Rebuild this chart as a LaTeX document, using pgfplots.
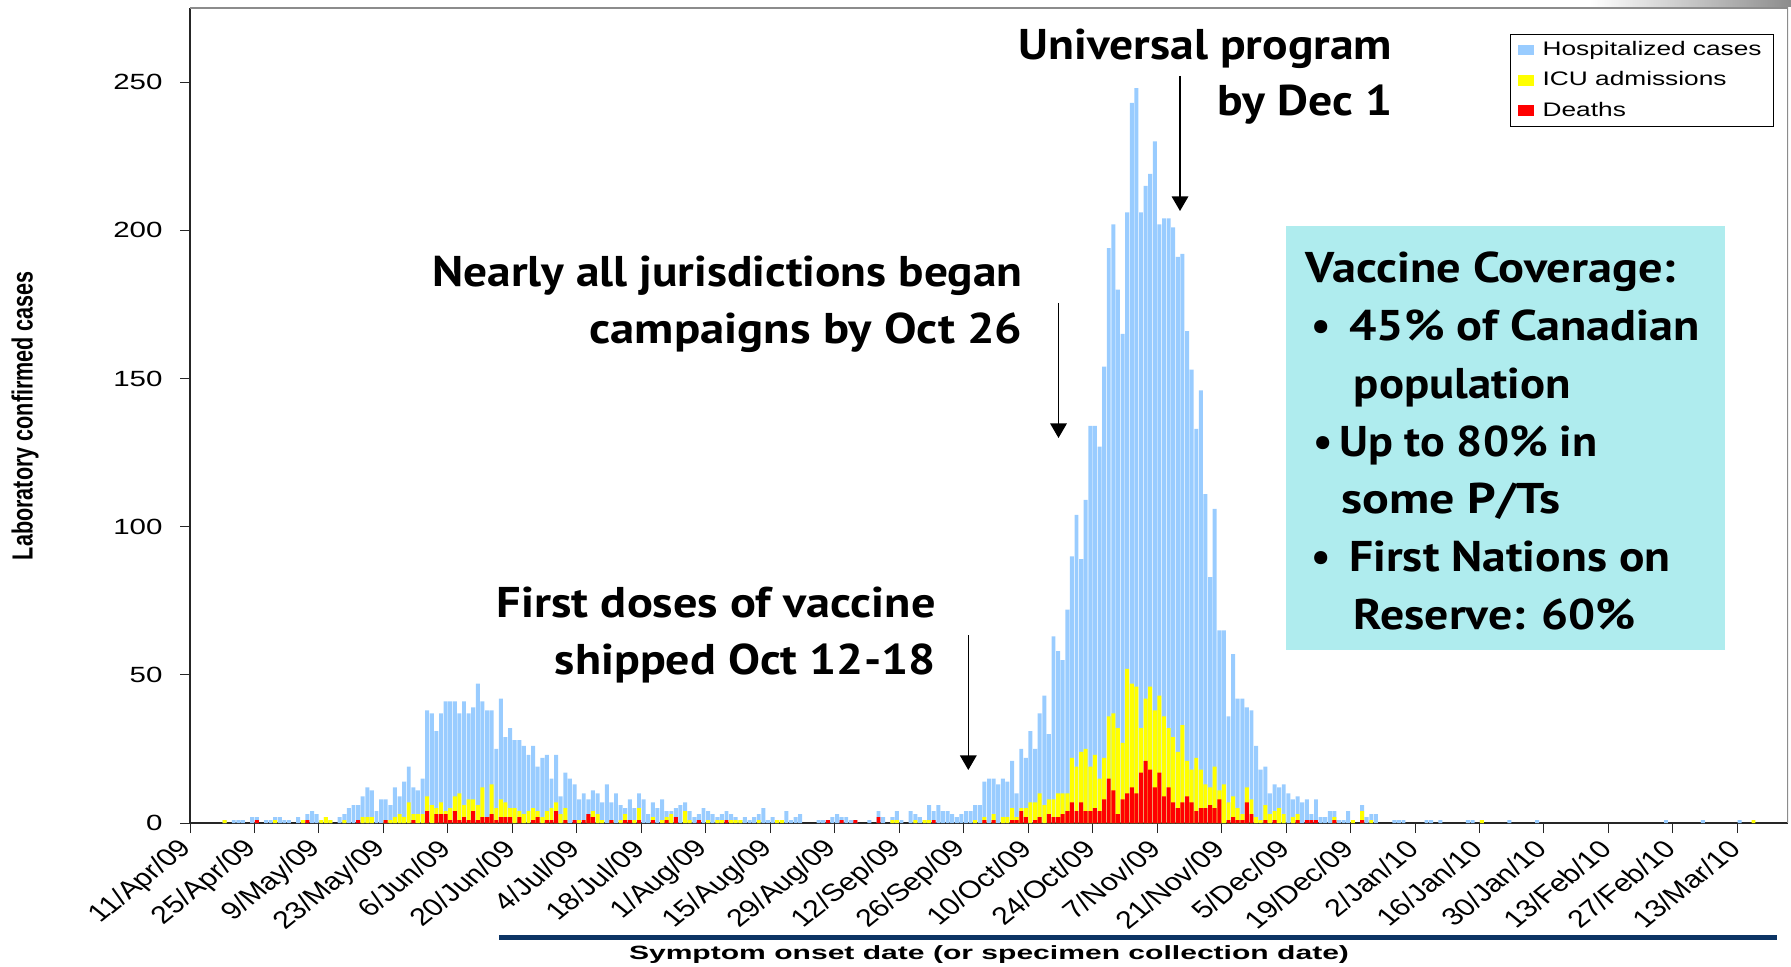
\documentclass[border=0pt]{standalone}
\usepackage{pgfplots}
\pgfplotsset{compat=1.18}
\usepackage{graphicx}
\usepackage{fontspec}
\setmainfont{Liberation Sans}
\newfontfamily\annfont{PT Sans}
\usetikzlibrary{arrows.meta}
\definecolor{hosp}{RGB}{153,204,255}
\definecolor{icu}{RGB}{255,255,0}
\definecolor{death}{RGB}{255,0,0}
\definecolor{boxc}{RGB}{175,236,238}
\definecolor{navy}{RGB}{12,52,100}
\newcommand{\fitw}[2]{\resizebox{#1}{\height}{#2}}
\newcommand{\ann}{\annfont\bfseries\fontsize{21.5}{25}\selectfont}
\newcommand{\leg}[1]{\hspace{2.5pt}\scalebox{1.34}[1]{#1}}
\begin{document}
\begin{tikzpicture}
\useasboundingbox (0,0) rectangle (895.5pt,-483.5pt);
\begin{axis}[
  at={(95pt,-411.5pt)}, anchor=south west,
  scale only axis, width=799pt, height=407.5pt,
  xmin=0, xmax=347, ymin=0, ymax=275,
  axis x line*=bottom, axis y line*=left,
  axis line style={black!85, line width=0.6pt},
  tick align=outside, major tick length=5pt,
  tick style={black!85, line width=0.5pt},
  ytick={0,50,100,150,200,250},
  /pgf/number format/assume math mode=true,
  yticklabel style={font=\fontsize{11}{13}\selectfont, xscale=1.34, anchor=east, xshift=-3pt},
  xtick={0,14,...,336},
  xticklabels={11/Apr/09,25/Apr/09,9/May/09,23/May/09,6/Jun/09,20/Jun/09,4/Jul/09,18/Jul/09,1/Aug/09,15/Aug/09,29/Aug/09,12/Sep/09,26/Sep/09,10/Oct/09,24/Oct/09,7/Nov/09,21/Nov/09,5/Dec/09,19/Dec/09,2/Jan/10,16/Jan/10,30/Jan/10,13/Feb/10,27/Feb/10,13/Mar/10},
  xticklabel style={font=\fontsize{12.3}{14}\selectfont, cm={0.8768,0.7071,-0.8768,0.7071,(0,0)}, anchor=east, xshift=-1.5pt, yshift=-3.5pt},
  legend image code/.code={\fill[#1] (0pt,-2.6pt) rectangle (7.6pt,2.6pt);},
  legend style={at={(0.826,0.968)}, anchor=north west, draw=black, line width=0.5pt,
    font=\fontsize{9.8}{11.5}\selectfont, inner xsep=4pt, inner ysep=1.5pt, row sep=2.5pt},
  legend cell align=left,
]
\addplot[ybar, bar width=0.86, bar shift=0pt, fill=hosp, draw=none] coordinates {
(7.5,1) (9.5,1) (10.5,1) (11.5,1) (13.5,2) (14.5,2) (16.5,1) (17.5,1) (18.5,2) (19.5,2) (20.5,1) (21.5,1) (23.5,2) (24.5,1) (25.5,3) (26.5,4) (27.5,3) (28.5,1) (29.5,2) (30.5,1) (32.5,2) (33.5,3) (34.5,5) (35.5,6) (36.5,6) (37.5,9) (38.5,12) (39.5,11) (40.5,4) (41.5,8) (42.5,8) (43.5,6) (44.5,12) (45.5,9) (46.5,14) (47.5,19) (48.5,12) (49.5,11) (50.5,15) (51.5,38) (52.5,37) (53.5,31) (54.5,37) (55.5,41) (56.5,41) (57.5,41) (58.5,37) (59.5,41) (60.5,37) (61.5,39) (62.5,47) (63.5,41) (64.5,38) (65.5,38) (66.5,25) (67.5,42) (68.5,29) (69.5,32) (70.5,28) (71.5,28) (72.5,26) (73.5,23) (74.5,26) (75.5,19) (76.5,22) (77.5,23) (78.5,15) (79.5,23) (80.5,9) (81.5,17) (82.5,15) (83.5,13) (84.5,8) (85.5,10) (86.5,8) (87.5,11) (88.5,10) (89.5,7) (90.5,13) (91.5,7) (92.5,10) (93.5,6) (94.5,5) (95.5,8) (96.5,5) (97.5,10) (98.5,8) (99.5,3) (100.5,7) (101.5,5) (102.5,8) (103.5,4) (104.5,4) (105.5,5) (106.5,6) (107.5,7) (108.5,4) (109.5,2) (110.5,3) (111.5,5) (112.5,4) (113.5,3) (114.5,2) (115.5,3) (116.5,4) (117.5,3) (118.5,2) (119.5,1) (120.5,2) (121.5,1) (122.5,2) (123.5,3) (124.5,5) (125.5,1) (126.5,2) (127.5,1) (129.5,4) (130.5,1) (131.5,2) (132.5,3) (136.5,1) (137.5,1) (138.5,1) (139.5,2) (140.5,3) (141.5,2) (142.5,2) (143.5,1) (144.5,1) (147.5,1) (149.5,4) (150.5,2) (152.5,2) (153.5,4) (154.5,1) (156.5,4) (157.5,3) (158.5,2) (159.5,1) (160.5,6) (161.5,4) (162.5,6) (163.5,4) (164.5,4) (165.5,3) (166.5,2) (167.5,3) (168.5,4) (169.5,4) (170.5,6) (171.5,6) (172.5,14) (173.5,15) (174.5,15) (175.5,13) (176.5,15) (177.5,14) (178.5,21) (179.5,10) (180.5,25) (181.5,22) (182.5,31) (183.5,25) (184.5,37) (185.5,43) (186.5,30) (187.5,63) (188.5,58) (189.5,55) (190.5,72) (191.5,90) (192.5,104) (193.5,89) (194.5,109) (195.5,134) (196.5,134) (197.5,127) (198.5,154) (199.5,194) (200.5,202) (201.5,180) (202.5,165) (203.5,206) (204.5,243) (205.5,248) (206.5,206) (207.5,215) (208.5,219) (209.5,230) (210.5,202) (211.5,204) (212.5,204) (213.5,201) (214.5,191) (215.5,192) (216.5,166) (217.5,153) (218.5,133) (219.5,146) (220.5,111) (221.5,83) (222.5,106) (223.5,65) (224.5,65) (225.5,36) (226.5,57) (227.5,42) (228.5,42) (229.5,39) (230.5,38) (231.5,26) (232.5,18) (233.5,19) (234.5,10) (235.5,13) (236.5,12) (237.5,13) (238.5,10) (239.5,8) (240.5,9) (241.5,7) (242.5,8) (243.5,3) (244.5,8) (245.5,2) (246.5,2) (247.5,4) (248.5,4) (249.5,1) (250.5,1) (251.5,4) (254.5,6) (255.5,2) (256.5,3) (257.5,3) (261.5,1) (262.5,1) (263.5,1) (268.5,1) (269.5,1) (271.5,1) (277.5,1) (278.5,1) (280.5,1) (286.5,1) (292.5,1) (320.5,1) (328.5,1) (336.5,1)
};
\addlegendentry{\leg{Hospitalized cases}}
\addplot[ybar, bar width=0.86, bar shift=0pt, fill=icu, draw=none] coordinates {
(7.5,1) (18.5,1) (24.5,1) (28.5,1) (29.5,2) (30.5,1) (33.5,1) (37.5,2) (38.5,2) (39.5,2) (42.5,1) (43.5,1) (44.5,2) (45.5,3) (46.5,2) (47.5,7) (48.5,3) (49.5,3) (50.5,3) (51.5,9) (52.5,6) (53.5,5) (54.5,7) (55.5,4) (56.5,5) (57.5,9) (58.5,10) (59.5,6) (60.5,8) (61.5,8) (62.5,6) (63.5,12) (64.5,2) (65.5,13) (66.5,5) (67.5,8) (68.5,7) (69.5,5) (70.5,5) (71.5,4) (72.5,3) (73.5,4) (74.5,5) (75.5,4) (76.5,2) (77.5,4) (78.5,5) (79.5,7) (80.5,3) (81.5,5) (84.5,1) (86.5,2) (87.5,4) (88.5,3) (89.5,1) (91.5,1) (93.5,1) (94.5,3) (96.5,1) (97.5,5) (100.5,2) (102.5,1) (103.5,2) (104.5,3) (105.5,1) (107.5,4) (108.5,1) (112.5,1) (114.5,1) (115.5,1) (117.5,1) (118.5,1) (119.5,1) (123.5,1) (127.5,1) (128.5,1) (152.5,1) (153.5,1) (157.5,1) (159.5,1) (160.5,1) (170.5,1) (172.5,2) (174.5,3) (176.5,2) (177.5,2) (178.5,5) (179.5,2) (180.5,5) (181.5,5) (182.5,7) (183.5,7) (184.5,10) (185.5,6) (186.5,8) (187.5,8) (188.5,10) (189.5,10) (190.5,10) (191.5,22) (192.5,19) (193.5,24) (194.5,25) (195.5,19) (196.5,23) (197.5,15) (198.5,22) (199.5,36) (200.5,37) (201.5,32) (202.5,27) (203.5,52) (204.5,47) (205.5,46) (206.5,32) (207.5,42) (208.5,46) (209.5,38) (210.5,43) (211.5,36) (212.5,32) (213.5,29) (214.5,24) (215.5,33) (216.5,21) (217.5,18) (218.5,22) (219.5,18) (220.5,13) (221.5,12) (222.5,19) (223.5,11) (224.5,13) (225.5,7) (226.5,9) (227.5,5) (228.5,3) (229.5,12) (230.5,8) (231.5,2) (232.5,1) (233.5,6) (234.5,3) (235.5,4) (236.5,5) (237.5,3) (239.5,2) (240.5,3) (248.5,2) (252.5,1) (254.5,4) (256.5,1) (280.5,1) (339.5,1)
};
\addlegendentry{\leg{ICU admissions}}
\addplot[ybar, bar width=0.86, bar shift=0pt, fill=death, draw=none] coordinates {
(14.5,1) (25.5,1) (36.5,1) (42.5,1) (48.5,1) (51.5,4) (53.5,3) (54.5,3) (55.5,3) (56.5,1) (57.5,4) (58.5,1) (59.5,2) (60.5,1) (61.5,4) (62.5,1) (63.5,2) (64.5,2) (65.5,3) (66.5,1) (67.5,2) (68.5,2) (69.5,2) (71.5,2) (74.5,1) (75.5,2) (77.5,1) (78.5,1) (79.5,4) (81.5,1) (83.5,1) (85.5,1) (86.5,3) (87.5,2) (91.5,1) (94.5,1) (95.5,1) (97.5,1) (100.5,1) (103.5,1) (105.5,2) (110.5,1) (116.5,1) (138.5,1) (141.5,1) (144.5,1) (149.5,2) (161.5,1) (172.5,1) (174.5,1) (178.5,1) (179.5,1) (180.5,4) (181.5,2) (183.5,1) (184.5,2) (186.5,3) (187.5,2) (188.5,2) (189.5,3) (190.5,4) (191.5,7) (192.5,4) (193.5,7) (194.5,4) (195.5,4) (196.5,5) (197.5,4) (198.5,8) (199.5,15) (200.5,11) (201.5,3) (202.5,8) (203.5,10) (204.5,12) (205.5,10) (206.5,17) (207.5,21) (208.5,18) (209.5,12) (210.5,17) (211.5,9) (212.5,12) (213.5,7) (214.5,5) (215.5,7) (216.5,9) (217.5,7) (218.5,4) (219.5,5) (220.5,5) (221.5,6) (222.5,5) (223.5,8) (225.5,1) (226.5,2) (227.5,1) (228.5,1) (229.5,7) (230.5,3) (233.5,1) (235.5,1) (240.5,1) (242.5,1) (243.5,1) (244.5,1) (248.5,1) (254.5,1)
};
\addlegendentry{\leg{Deaths}}
\draw[black!45, line width=0.6pt] (rel axis cs:0,1) -- (rel axis cs:1,1) -- (rel axis cs:1,0);
\end{axis}
\begin{scope}[x=0.5pt, y=-0.5pt]
\shade[left color=white, right color=black!45] (1590,0) rectangle (1791,7);
% y label
\node[rotate=90, inner sep=0pt] at (25,415.5) {\scalebox{1}[1.3]{\resizebox{144.5pt}{\height}{\bfseries\fontsize{11.2}{14}\selectfont Laboratory confirmed cases}}};
% x label
\node[anchor=base, inner sep=0pt] at (989,959) {\resizebox{360pt}{\height}{\bfseries\fontsize{9.6}{11}\selectfont Symptom onset date (or specimen collection date)}};
\fill[navy] (499,935) rectangle (1777,940);
% annotations
\node[anchor=base east, inner sep=0pt] at (1392.5,59.4) {\fitw{186.7pt}{\ann Universal program}};
\node[anchor=base east, inner sep=0pt] at (1392.5,115.5) {\fitw{87.4pt}{\ann by Dec 1}};
\node[anchor=base east, inner sep=0pt] at (1023,287) {\fitw{295pt}{\ann Nearly all jurisdictions began}};
\node[anchor=base east, inner sep=0pt] at (1023,343.5) {\fitw{216.5pt}{\ann campaigns by Oct 26}};
\node[anchor=base east, inner sep=0pt] at (936,617) {\fitw{219.3pt}{\ann First doses of vaccine}};
\node[anchor=base east, inner sep=0pt] at (936,674) {\fitw{190.3pt}{\ann shipped Oct 12-18}};
\draw[line width=0.67pt, -{Triangle[width=8.3pt,length=7.3pt]}] (1180,76) -- (1180,211);
\draw[line width=0.67pt, -{Triangle[width=8.3pt,length=7.3pt]}] (1058.5,303) -- (1058.5,438);
\draw[line width=0.67pt, -{Triangle[width=8.3pt,length=7.3pt]}] (968.3,635) -- (968.3,770);
% box
\fill[boxc] (1286,226) rectangle (1725,650);
\node[anchor=base west, inner sep=0pt] at (1305.5,283) {\fitw{185pt}{\ann Vaccine Coverage:}};
\node[anchor=base west, inner sep=0pt] at (1311,340.7) {\ann\textbullet};
\node[anchor=base west, inner sep=0pt] at (1349,340.7) {\fitw{175.3pt}{\ann 45\% of Canadian}};
\node[anchor=base west, inner sep=0pt] at (1353.5,398.4) {\fitw{108.5pt}{\ann population}};
\node[anchor=base west, inner sep=0pt] at (1313,456.1) {\ann\textbullet};
\node[anchor=base west, inner sep=0pt] at (1338.7,456.1) {\fitw{129pt}{\ann Up to 80\% in}};
\node[anchor=base west, inner sep=0pt] at (1341,513.8) {\fitw{109.6pt}{\ann some P/Ts}};
\node[anchor=base west, inner sep=0pt] at (1311,571.5) {\ann\textbullet};
\node[anchor=base west, inner sep=0pt] at (1349,571.5) {\fitw{160.5pt}{\ann First Nations on}};
\node[anchor=base west, inner sep=0pt] at (1353.5,629.3) {\fitw{141pt}{\ann Reserve: 60\%}};
\end{scope}
\end{tikzpicture}
\end{document}
